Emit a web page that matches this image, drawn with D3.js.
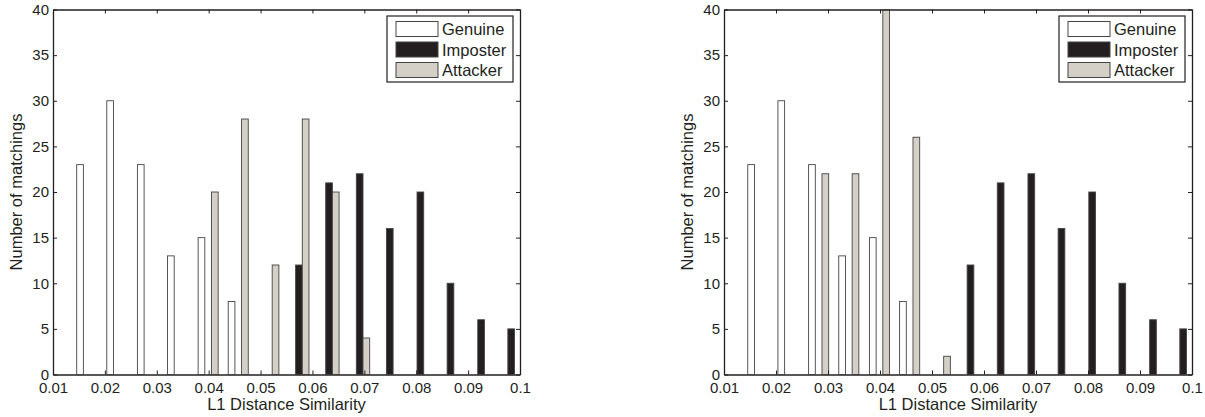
<!DOCTYPE html>
<html>
<head>
    <meta charset="utf-8">
    <script src="https://d3js.org/d3.v7.min.js"></script>
    <style>
        body { margin: 0; background: #fff; }
        text { font-family: "Liberation Sans", Arial, sans-serif; fill: #231f20; }
    </style>
</head>
<body>
    <svg width="1205" height="417"></svg>
    <script>
    // bin centres (L1 distance) shared by both panels
    var binCenters = [0.0165, 0.0223, 0.0282, 0.0340, 0.0399, 0.0457, 0.0516, 0.0574,
                      0.0632, 0.0691, 0.0749, 0.0808, 0.0866, 0.0925, 0.0983];

    var genuine  = [23, 30, 23, 13, 15, 8, 0, 0, 0, 0, 0, 0, 0, 0, 0];
    var imposter = [0, 0, 0, 0, 0, 0, 0, 12, 21, 22, 16, 20, 10, 6, 5];
    var attackerLeft  = [0, 0, 0, 0, 20, 28, 12, 28, 20, 4, 0, 0, 0, 0, 0];
    var attackerRight = [0, 0, 22, 22, 40, 26, 2, 0, 0, 0, 0, 0, 0, 0, 0];

    var xTicks = [0.01, 0.02, 0.03, 0.04, 0.05, 0.06, 0.07, 0.08, 0.09, 0.1];
    var yTicks = [0, 5, 10, 15, 20, 25, 30, 35, 40];
    var seriesNames = ["Genuine", "Imposter", "Attacker"];
    var seriesColors = ["#ffffff", "#231f20", "#d4d0c8"];

    var svg = d3.select("svg");

    function drawPanel(id, left, right, attacker) {
        var top = 9.5, bottom = 374.5;
        var x = d3.scaleLinear().domain([0.01, 0.1]).range([left, right]);
        var y = d3.scaleLinear().domain([0, 40]).range([bottom, top]);

        var g = svg.append("g");

        g.append("clipPath").attr("id", "clip" + id)
          .append("rect")
            .attr("x", left).attr("y", top)
            .attr("width", right - left).attr("height", bottom - top);

        var barW = (x(binCenters[1]) - x(binCenters[0])) * 0.222;
        var series = [genuine, imposter, attacker];

        var bars = g.append("g").attr("clip-path", "url(#clip" + id + ")");
        series.forEach(function(vals, s) {
            bars.selectAll(".b" + s)
              .data(vals.map(function(v, i) { return {v: v, c: binCenters[i]}; })
                        .filter(function(d) { return d.v > 0; }))
              .enter().append("rect")
                .attr("x", function(d) { return x(d.c) + (s - 1.5) * barW; })
                .attr("y", function(d) { return y(d.v); })
                .attr("width", barW)
                .attr("height", function(d) { return y(0) - y(d.v); })
                .attr("fill", seriesColors[s])
                .attr("stroke", "#444")
                .attr("stroke-width", 0.9);
        });

        // axes (MATLAB style box with inward ticks)
        g.append("g")
            .attr("transform", "translate(0," + bottom + ")")
            .call(d3.axisBottom(x).tickValues(xTicks).tickSizeInner(-4).tickSizeOuter(0)
                    .tickPadding(8).tickFormat(d3.format("")));
        g.append("g")
            .attr("transform", "translate(0," + top + ")")
            .call(d3.axisTop(x).tickValues(xTicks).tickSizeInner(-4).tickSizeOuter(0)
                    .tickFormat(""));
        g.append("g")
            .attr("transform", "translate(" + left + ",0)")
            .call(d3.axisLeft(y).tickValues(yTicks).tickSizeInner(-4).tickSizeOuter(0)
                    .tickPadding(4));
        g.append("g")
            .attr("transform", "translate(" + right + ",0)")
            .call(d3.axisRight(y).tickValues(yTicks).tickSizeInner(-4).tickSizeOuter(0)
                    .tickFormat(""));

        g.selectAll(".domain").attr("stroke", "#231f20").attr("stroke-width", 1.3);
        g.selectAll(".tick line").attr("stroke", "#231f20");
        g.selectAll(".tick text").style("font-size", "15px").style("fill", "#231f20");

        g.append("text")
            .attr("x", (left + right) / 2).attr("y", 410)
            .attr("text-anchor", "middle")
            .style("font-size", "16.5px")
            .text("L1 Distance Similarity");

        g.append("text")
            .attr("transform", "translate(" + (left - 31) + "," + ((top + bottom) / 2) + ") rotate(-90)")
            .attr("text-anchor", "middle")
            .style("font-size", "16.5px")
            .text("Number of matchings");

        // legend
        var lg = g.append("g").attr("transform", "translate(" + (right - 133) + ",16)");
        lg.append("rect").attr("width", 126).attr("height", 66)
            .attr("fill", "#fff").attr("stroke", "#231f20").attr("stroke-width", 1.2);
        seriesNames.forEach(function(name, s) {
            lg.append("rect")
                .attr("x", 9).attr("y", 5.5 + s * 20.5)
                .attr("width", 42).attr("height", 15)
                .attr("fill", seriesColors[s]).attr("stroke", "#444");
            lg.append("text")
                .attr("x", 55).attr("y", 19 + s * 20.5)
                .style("font-size", "16.5px")
                .text(name);
        });
    }

    drawPanel("L", 53, 520, attackerLeft);
    drawPanel("R", 724, 1192, attackerRight);
    </script>
</body>
</html>
